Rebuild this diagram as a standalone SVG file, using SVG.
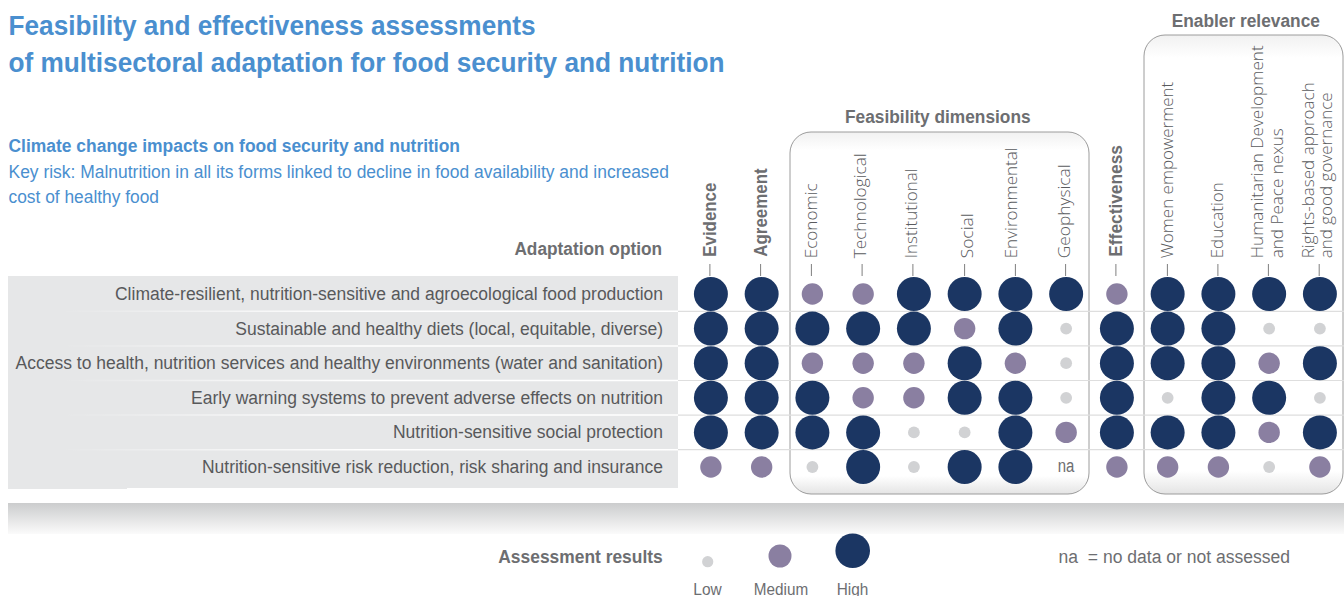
<svg xmlns="http://www.w3.org/2000/svg" width="1344" height="596" viewBox="0 0 1344 596">
<style>
  text { font-family: "Liberation Sans", Arial, sans-serif; }
  .title { font-size: 28px; font-weight: bold; fill: #4a8fcf; }
  .sub { font-size: 17.5px; fill: #4a8fcf; }
  .subb { font-size: 17.5px; font-weight: bold; fill: #4a8fcf; }
  .hdr { font-size: 18px; font-weight: bold; fill: #6d6e71; }
  .row { font-size: 18px; fill: #58595b; }
  .cl { font-family: "Open Sans", "Liberation Sans", sans-serif; font-weight: 300; font-size: 16.5px; fill: #5a5b5e; }
  .clb { font-size: 18.5px; font-weight: bold; fill: #6d6e71; }
  .leg { font-size: 16px; fill: #6d6e71; }
  .na { font-size: 18px; fill: #6d6e71; }
  .h { fill: #1b3663; }
  .m { fill: #8a7fa1; }
  .l { fill: #d1d2d4; }
  .tick { stroke: #7f7f7f; stroke-width: 1; }
  .sep { stroke: #dedede; stroke-width: 1.2; }
  .wsep { stroke: url(#wfade); stroke-width: 1.5; }
  .box { fill: url(#boxg); stroke: #9c9c9c; stroke-width: 1; }
</style>
<defs>
  <linearGradient id="boxg" x1="0" y1="0" x2="0" y2="1">
    <stop offset="0" stop-color="#f1f1f1"/>
    <stop offset="0.05" stop-color="#ffffff"/>
    <stop offset="0.95" stop-color="#ffffff"/>
    <stop offset="1" stop-color="#e4e4e4"/>
  </linearGradient>
  <linearGradient id="wfade" gradientUnits="userSpaceOnUse" x1="60" y1="0" x2="360" y2="0">
    <stop offset="0" stop-color="#ffffff" stop-opacity="0"/>
    <stop offset="1" stop-color="#ffffff" stop-opacity="1"/>
  </linearGradient>
  <linearGradient id="bandg" x1="0" y1="0" x2="0" y2="1">
    <stop offset="0" stop-color="#cbcccd"/>
    <stop offset="1" stop-color="#fbfbfb"/>
  </linearGradient>
</defs>

<rect width="1344" height="596" fill="#ffffff"/>

<g id="title">
  <text class="title" x="8.5" y="35" textLength="527" lengthAdjust="spacingAndGlyphs">Feasibility and effectiveness assessments</text>
  <text class="title" x="8.5" y="72" textLength="716" lengthAdjust="spacingAndGlyphs">of multisectoral adaptation for food security and nutrition</text>
</g>

<g id="subtitle">
  <text class="subb" x="8.5" y="152" textLength="451.5" lengthAdjust="spacingAndGlyphs">Climate change impacts on food security and nutrition</text>
  <text class="sub" x="8.5" y="178" textLength="660.5" lengthAdjust="spacingAndGlyphs">Key risk: Malnutrition in all its forms linked to decline in food availability and increased</text>
  <text class="sub" x="8.5" y="203" textLength="150.5" lengthAdjust="spacingAndGlyphs">cost of healthy food</text>
</g>

<g id="feasibility-box">
  <rect class="box" x="790" y="132" width="299" height="362" rx="21" ry="21"/>
  <text class="hdr" x="937.8" y="123" text-anchor="middle" textLength="185.6" lengthAdjust="spacingAndGlyphs">Feasibility dimensions</text>
</g>

<g id="enabler-box">
  <rect class="box" x="1144" y="35" width="199" height="459" rx="21" ry="21"/>
  <text class="hdr" x="1245.8" y="26.5" text-anchor="middle" textLength="148.3" lengthAdjust="spacingAndGlyphs">Enabler relevance</text>
</g>

<g id="row-band">
  <rect x="8" y="276" width="670" height="212" fill="#e6e7e8"/>
  <rect x="8" y="487" width="119" height="2" fill="#e6e7e8"/>
  <text class="hdr" x="662.1" y="255" text-anchor="end" textLength="147.7" lengthAdjust="spacingAndGlyphs">Adaptation option</text>
</g>

<g id="connectors">
  <line class="wsep" x1="8" y1="311.3" x2="678" y2="311.3"/>
  <line class="wsep" x1="8" y1="345.9" x2="678" y2="345.9"/>
  <line class="wsep" x1="8" y1="380.5" x2="678" y2="380.5"/>
  <line class="wsep" x1="8" y1="415.1" x2="678" y2="415.1"/>
  <line class="wsep" x1="8" y1="449.7" x2="678" y2="449.7"/>
  <line class="sep" x1="678" y1="311.3" x2="1344" y2="311.3"/>
  <line class="sep" x1="678" y1="345.9" x2="1344" y2="345.9"/>
  <line class="sep" x1="678" y1="380.5" x2="1344" y2="380.5"/>
  <line class="sep" x1="678" y1="415.1" x2="1344" y2="415.1"/>
  <line class="sep" x1="678" y1="449.7" x2="1344" y2="449.7"/>
  <line class="tick" x1="709.9" y1="264" x2="709.9" y2="276"/>
  <line class="tick" x1="760.6" y1="264" x2="760.6" y2="276"/>
  <line class="tick" x1="811.4" y1="264" x2="811.4" y2="276"/>
  <line class="tick" x1="862.1" y1="264" x2="862.1" y2="276"/>
  <line class="tick" x1="912.9" y1="264" x2="912.9" y2="276"/>
  <line class="tick" x1="964.6" y1="264" x2="964.6" y2="276"/>
  <line class="tick" x1="1015.4" y1="264" x2="1015.4" y2="276"/>
  <line class="tick" x1="1065.6" y1="264" x2="1065.6" y2="276"/>
  <line class="tick" x1="1115.9" y1="264" x2="1115.9" y2="276"/>
  <line class="tick" x1="1167.4" y1="264" x2="1167.4" y2="276"/>
  <line class="tick" x1="1217.9" y1="264" x2="1217.9" y2="276"/>
  <line class="tick" x1="1268.4" y1="264" x2="1268.4" y2="276"/>
  <line class="tick" x1="1319.2" y1="264" x2="1319.2" y2="276"/>
</g>

<g id="column-labels">
  <text class="clb" transform="translate(716,256.7) rotate(-90)" textLength="74" lengthAdjust="spacingAndGlyphs">Evidence</text>
  <text class="clb" transform="translate(766.7,256.7) rotate(-90)" textLength="88.4" lengthAdjust="spacingAndGlyphs">Agreement</text>
  <text class="cl" transform="translate(816.7,258.3) rotate(-90)" textLength="75" lengthAdjust="spacingAndGlyphs">Economic</text>
  <text class="cl" transform="translate(865.7,258.3) rotate(-90)" textLength="105" lengthAdjust="spacingAndGlyphs">Technological</text>
  <text class="cl" transform="translate(917.3,258.3) rotate(-90)" textLength="90" lengthAdjust="spacingAndGlyphs">Institutional</text>
  <text class="cl" transform="translate(972.5,258.3) rotate(-90)" textLength="45" lengthAdjust="spacingAndGlyphs">Social</text>
  <text class="cl" transform="translate(1017.3,258.3) rotate(-90)" textLength="111" lengthAdjust="spacingAndGlyphs">Environmental</text>
  <text class="cl" transform="translate(1070,258.3) rotate(-90)" textLength="94" lengthAdjust="spacingAndGlyphs">Geophysical</text>
  <text class="clb" transform="translate(1121.7,256.7) rotate(-90)" textLength="111.7" lengthAdjust="spacingAndGlyphs">Effectiveness</text>
  <text class="cl" transform="translate(1173.3,258.3) rotate(-90)" textLength="176.6" lengthAdjust="spacingAndGlyphs">Women empowerment</text>
  <text class="cl" transform="translate(1223.3,258.3) rotate(-90)" textLength="76" lengthAdjust="spacingAndGlyphs">Education</text>
  <text class="cl" transform="translate(1263.3,258.3) rotate(-90)" textLength="213" lengthAdjust="spacingAndGlyphs">Humanitarian Development</text>
  <text class="cl" transform="translate(1283.3,258.3) rotate(-90)" textLength="130" lengthAdjust="spacingAndGlyphs">and Peace nexus</text>
  <text class="cl" transform="translate(1314,258.3) rotate(-90)" textLength="176" lengthAdjust="spacingAndGlyphs">Rights-based approach</text>
  <text class="cl" transform="translate(1331.7,258.3) rotate(-90)" textLength="166" lengthAdjust="spacingAndGlyphs">and good governance</text>
</g>

<g id="row-1">
  <text class="row" x="663" y="300" text-anchor="end" textLength="548" lengthAdjust="spacingAndGlyphs">Climate-resilient, nutrition-sensitive and agroecological food production</text>
  <circle class="h" cx="710.9" cy="294" r="17"/>
  <circle class="h" cx="761.65" cy="294" r="17"/>
  <circle class="m" cx="812.4" cy="294" r="10.7"/>
  <circle class="m" cx="863.15" cy="294" r="10.7"/>
  <circle class="h" cx="913.9" cy="294" r="17"/>
  <circle class="h" cx="964.65" cy="294" r="17"/>
  <circle class="h" cx="1015.4" cy="294" r="17"/>
  <circle class="h" cx="1066.15" cy="294" r="17"/>
  <circle class="m" cx="1116.9" cy="294" r="10.7"/>
  <circle class="h" cx="1167.65" cy="294" r="17"/>
  <circle class="h" cx="1218.4" cy="294" r="17"/>
  <circle class="h" cx="1269.15" cy="294" r="17"/>
  <circle class="h" cx="1319.9" cy="294" r="17"/>
</g>

<g id="row-2">
  <text class="row" x="663" y="334.6" text-anchor="end" textLength="427.7" lengthAdjust="spacingAndGlyphs">Sustainable and healthy diets (local, equitable, diverse)</text>
  <circle class="h" cx="710.9" cy="328.6" r="17"/>
  <circle class="h" cx="761.65" cy="328.6" r="17"/>
  <circle class="h" cx="812.4" cy="328.6" r="17"/>
  <circle class="h" cx="863.15" cy="328.6" r="17"/>
  <circle class="h" cx="913.9" cy="328.6" r="17"/>
  <circle class="m" cx="964.65" cy="328.6" r="10.7"/>
  <circle class="h" cx="1015.4" cy="328.6" r="17"/>
  <circle class="l" cx="1066.15" cy="328.6" r="5.9"/>
  <circle class="h" cx="1116.9" cy="328.6" r="17"/>
  <circle class="h" cx="1167.65" cy="328.6" r="17"/>
  <circle class="h" cx="1218.4" cy="328.6" r="17"/>
  <circle class="l" cx="1269.15" cy="328.6" r="5.9"/>
  <circle class="l" cx="1319.9" cy="328.6" r="5.9"/>
</g>

<g id="row-3">
  <text class="row" x="663" y="369.2" text-anchor="end" textLength="647.4" lengthAdjust="spacingAndGlyphs">Access to health, nutrition services and healthy environments (water and sanitation)</text>
  <circle class="h" cx="710.9" cy="363.2" r="17"/>
  <circle class="h" cx="761.65" cy="363.2" r="17"/>
  <circle class="m" cx="812.4" cy="363.2" r="10.7"/>
  <circle class="m" cx="863.15" cy="363.2" r="10.7"/>
  <circle class="m" cx="913.9" cy="363.2" r="10.7"/>
  <circle class="h" cx="964.65" cy="363.2" r="17"/>
  <circle class="m" cx="1015.4" cy="363.2" r="10.7"/>
  <circle class="l" cx="1066.15" cy="363.2" r="5.9"/>
  <circle class="h" cx="1116.9" cy="363.2" r="17"/>
  <circle class="h" cx="1167.65" cy="363.2" r="17"/>
  <circle class="h" cx="1218.4" cy="363.2" r="17"/>
  <circle class="m" cx="1269.15" cy="363.2" r="10.7"/>
  <circle class="h" cx="1319.9" cy="363.2" r="17"/>
</g>

<g id="row-4">
  <text class="row" x="663" y="403.8" text-anchor="end" textLength="472" lengthAdjust="spacingAndGlyphs">Early warning systems to prevent adverse effects on nutrition</text>
  <circle class="h" cx="710.9" cy="397.8" r="17"/>
  <circle class="h" cx="761.65" cy="397.8" r="17"/>
  <circle class="h" cx="812.4" cy="397.8" r="17"/>
  <circle class="m" cx="863.15" cy="397.8" r="10.7"/>
  <circle class="m" cx="913.9" cy="397.8" r="10.7"/>
  <circle class="h" cx="964.65" cy="397.8" r="17"/>
  <circle class="h" cx="1015.4" cy="397.8" r="17"/>
  <circle class="l" cx="1066.15" cy="397.8" r="5.9"/>
  <circle class="h" cx="1116.9" cy="397.8" r="17"/>
  <circle class="l" cx="1167.65" cy="397.8" r="5.9"/>
  <circle class="h" cx="1218.4" cy="397.8" r="17"/>
  <circle class="h" cx="1269.15" cy="397.8" r="17"/>
  <circle class="l" cx="1319.9" cy="397.8" r="5.9"/>
</g>

<g id="row-5">
  <text class="row" x="663" y="438.4" text-anchor="end" textLength="270" lengthAdjust="spacingAndGlyphs">Nutrition-sensitive social protection</text>
  <circle class="h" cx="710.9" cy="432.4" r="17"/>
  <circle class="h" cx="761.65" cy="432.4" r="17"/>
  <circle class="h" cx="812.4" cy="432.4" r="17"/>
  <circle class="h" cx="863.15" cy="432.4" r="17"/>
  <circle class="l" cx="913.9" cy="432.4" r="5.9"/>
  <circle class="l" cx="964.65" cy="432.4" r="5.9"/>
  <circle class="h" cx="1015.4" cy="432.4" r="17"/>
  <circle class="m" cx="1066.15" cy="432.4" r="10.7"/>
  <circle class="h" cx="1116.9" cy="432.4" r="17"/>
  <circle class="h" cx="1167.65" cy="432.4" r="17"/>
  <circle class="h" cx="1218.4" cy="432.4" r="17"/>
  <circle class="m" cx="1269.15" cy="432.4" r="10.7"/>
  <circle class="h" cx="1319.9" cy="432.4" r="17"/>
</g>

<g id="row-6">
  <text class="row" x="663" y="473" text-anchor="end" textLength="461" lengthAdjust="spacingAndGlyphs">Nutrition-sensitive risk reduction, risk sharing and insurance</text>
  <circle class="m" cx="710.9" cy="467" r="10.7"/>
  <circle class="m" cx="761.65" cy="467" r="10.7"/>
  <circle class="l" cx="812.4" cy="467" r="5.9"/>
  <circle class="h" cx="863.15" cy="467" r="17"/>
  <circle class="l" cx="913.9" cy="467" r="5.9"/>
  <circle class="h" cx="964.65" cy="467" r="17"/>
  <circle class="h" cx="1015.4" cy="467" r="17"/>
  <text class="na" x="1066" y="471.7" text-anchor="middle" textLength="16.6" lengthAdjust="spacingAndGlyphs">na</text>
  <circle class="m" cx="1116.9" cy="467" r="10.7"/>
  <circle class="m" cx="1167.65" cy="467" r="10.7"/>
  <circle class="m" cx="1218.4" cy="467" r="10.7"/>
  <circle class="l" cx="1269.15" cy="467" r="5.9"/>
  <circle class="m" cx="1319.9" cy="467" r="10.7"/>
</g>

<g id="bottom-band">
  <rect x="8" y="503" width="1336" height="31" fill="url(#bandg)"/>
</g>

<g id="legend">
  <text class="hdr" x="662.7" y="562.7" text-anchor="end" textLength="164.4" lengthAdjust="spacingAndGlyphs">Assessment results</text>
  <circle class="l" cx="707.7" cy="561.7" r="5.6"/>
  <circle class="m" cx="780" cy="556" r="11.5"/>
  <circle class="h" cx="852.7" cy="550.7" r="17.3"/>
  <text class="leg" x="707.5" y="594.5" text-anchor="middle" textLength="28.4" lengthAdjust="spacingAndGlyphs">Low</text>
  <text class="leg" x="781" y="594.5" text-anchor="middle" textLength="54.3" lengthAdjust="spacingAndGlyphs">Medium</text>
  <text class="leg" x="852.5" y="594.5" text-anchor="middle" textLength="31.6" lengthAdjust="spacingAndGlyphs">High</text>
  <text class="na" x="1058.6" y="562.7" textLength="231.4" lengthAdjust="spacingAndGlyphs" xml:space="preserve">na  = no data or not assessed</text>
</g>
</svg>
